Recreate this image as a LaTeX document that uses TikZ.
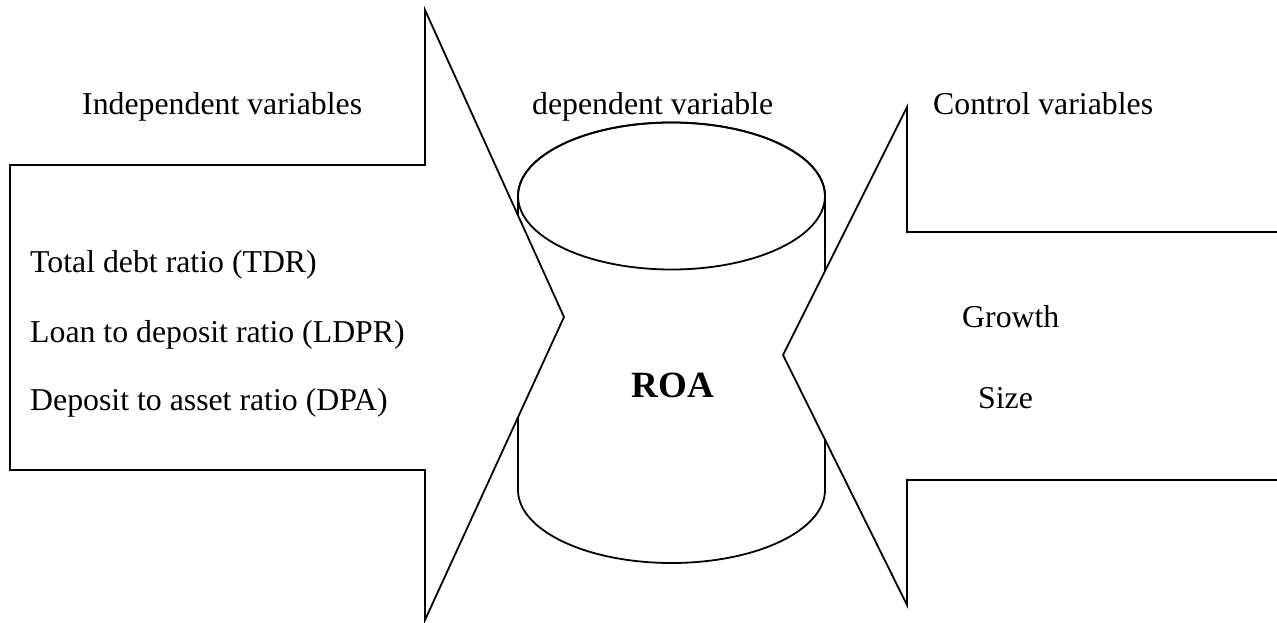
\documentclass[tikz,border=0pt]{standalone}
\usepackage{fontspec}
\setmainfont{Liberation Serif}
\begin{document}
\begin{tikzpicture}[x=1pt,y=-1pt,
  shp/.style={draw=black, fill=white, line width=1.8pt, line join=miter},
  lbl/.style={anchor=base west, inner sep=0pt, font=\fontsize{31.8}{38}\selectfont},
  roa/.style={anchor=base, inner sep=0pt, font=\fontsize{37}{44}\selectfont\bfseries}]
\useasboundingbox (0,0) rectangle (1277,623);
\clip (0,0) rectangle (1277,623);
% cylinder (dependent variable)
\path[shp] (518,196) -- (518,490)
  arc[start angle=180, end angle=0, x radius=153.5, y radius=73]
  -- (825,196)
  arc[start angle=0, end angle=-180, x radius=153.5, y radius=73.5] -- cycle;
\draw[line width=1.8pt] (671.5,196) ellipse [x radius=153.5, y radius=73.5];
% left arrow (independent variables)
\path[shp] (10,165) -- (425,165) -- (425,10) -- (564,317) -- (425,620)
  -- (425,470) -- (10,470) -- cycle;
% right arrow (control variables)
\path[shp] (1300,232) -- (907,232) -- (907,107) -- (783,355) -- (907,605)
  -- (907,480) -- (1300,480) -- cycle;
% labels
\node[lbl] (indep) at (82,115) {Independent variables};
\node[lbl] (tdr) at (30,272) {Total debt ratio (TDR)};
\node[lbl] (ldpr) at (30,342) {Loan to deposit ratio (LDPR)};
\node[lbl] (dpa) at (30,410) {Deposit to asset ratio (DPA)};
\node[lbl] (dep) at (532,115) {dependent variable};
\node[lbl] (ctrl) at (933,115) {Control variables};
\node[lbl] (growth) at (962,327) {Growth};
\node[lbl] (size) at (978,408) {Size};
\node[roa] (roa) at (673,397) {ROA};
\end{tikzpicture}
\end{document}
